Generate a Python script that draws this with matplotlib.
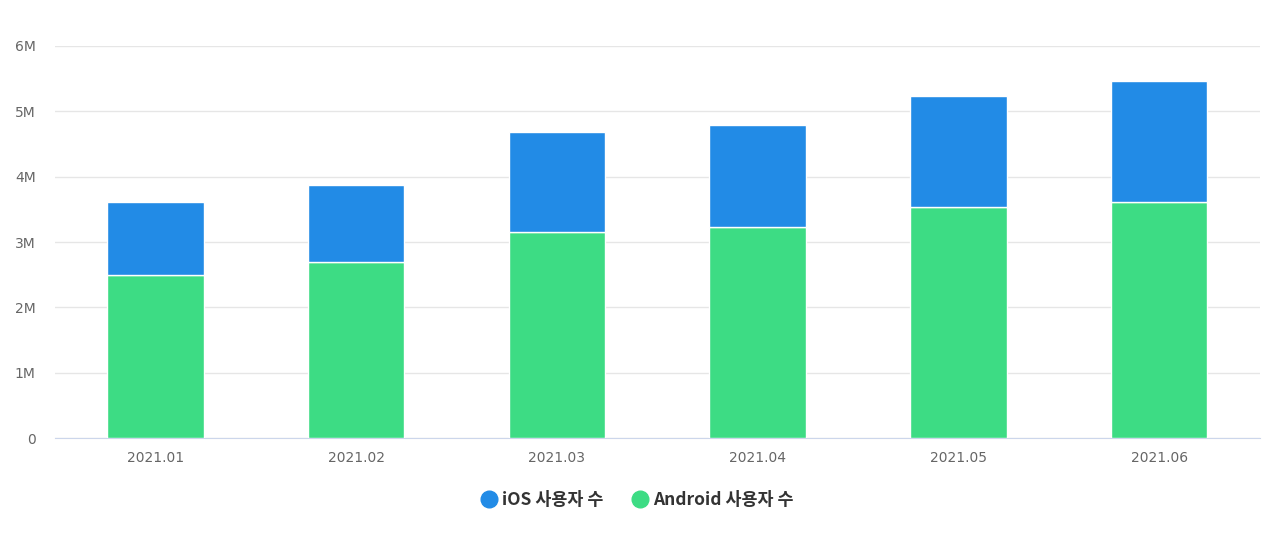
import matplotlib
matplotlib.use("Agg")
import matplotlib.pyplot as plt
from matplotlib.lines import Line2D
from matplotlib.ticker import FuncFormatter

plt.rcParams["font.family"] = ["Noto Sans CJK KR", "DejaVu Sans"]

months = ["2021.01", "2021.02", "2021.03", "2021.04", "2021.05", "2021.06"]
android_users = [2.50, 2.69, 3.15, 3.23, 3.54, 3.62]  # millions
ios_users = [1.12, 1.19, 1.53, 1.56, 1.69, 1.84]  # millions

BLUE = "#228be6"
GREEN = "#3ddc84"

fig = plt.figure(figsize=(12.8, 5.45), dpi=100)
ax = fig.add_axes([0.043, 0.196, 0.941, 0.7196])

x = range(len(months))
ax.bar(x, android_users, width=0.48, color=GREEN, edgecolor="white", linewidth=1, zorder=3)
ax.bar(x, ios_users, width=0.48, bottom=android_users, color=BLUE,
       edgecolor="white", linewidth=1, zorder=3)

ax.set_xlim(-0.5, len(months) - 0.5)
ax.set_ylim(0, 6)
ax.set_yticks(range(0, 7))
ax.yaxis.set_major_formatter(FuncFormatter(lambda v, _: "0" if v == 0 else f"{int(v)}M"))
ax.set_xticks(list(x))
ax.set_xticklabels(months)

ax.grid(axis="y", color="#e6e6e6", linewidth=1, zorder=0)
for side in ["top", "right", "left"]:
    ax.spines[side].set_visible(False)
ax.spines["bottom"].set_color("#ccd6eb")
ax.tick_params(axis="both", length=0, colors="#666666", labelsize=10)
for lbl in ax.get_xticklabels() + ax.get_yticklabels():
    lbl.set_family("DejaVu Sans")
ax.tick_params(axis="y", pad=14)
ax.tick_params(axis="x", pad=9)

handles = [
    Line2D([], [], marker="o", linestyle="", markersize=12, color=BLUE),
    Line2D([], [], marker="o", linestyle="", markersize=12, color=GREEN),
]
fig.legend(handles, ["iOS 사용자 수", "Android 사용자 수"], loc="center",
           bbox_to_anchor=(0.4965, 0.083), ncol=2, frameon=False,
           prop={"weight": "bold", "size": 12.5}, labelcolor="#333333",
           handlelength=1.4, handletextpad=0.05, columnspacing=1.4)

fig.savefig("out.png", dpi=100, facecolor="white")
